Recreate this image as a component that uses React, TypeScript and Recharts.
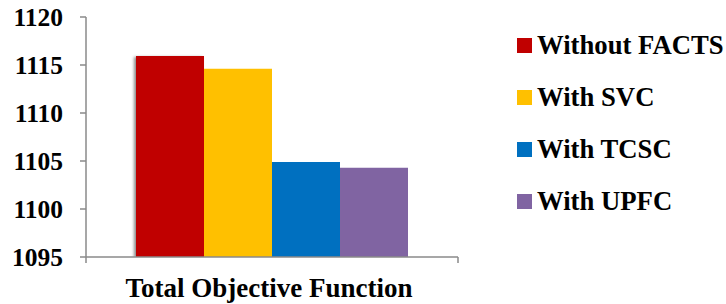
import React from 'react';
import { BarChart, Bar, XAxis, YAxis } from 'recharts';

const categories = ['Total Objective Function'];
const seriesNames = ['Without FACTS', 'With SVC', 'With TCSC', 'With UPFC'];
const seriesKeys = ['without', 'svc', 'tcsc', 'upfc'];
const seriesColors = ['#C00000', '#FFC000', '#0070C0', '#8064A2'];
const withoutValues = [1115.95];
const svcValues = [1114.6];
const tcscValues = [1104.9];
const upfcValues = [1104.3];
const yTicks = [1095, 1100, 1105, 1110, 1115, 1120];

const data = categories.map((c, i) => ({
  name: c,
  without: withoutValues[i],
  svc: svcValues[i],
  tcsc: tcscValues[i],
  upfc: upfcValues[i],
}));

const FONT = "'Liberation Serif', 'Times New Roman', serif";
const W = 726;
const H = 304;
const M_LEFT = 0;
const Y_W = 86;
const M_RIGHT = 268;
const M_TOP = 17;
const X_H = 47;
const PLOT_W = W - M_LEFT - Y_W - M_RIGHT;
const PLOT_BOTTOM = H - X_H;
const AXIS_COLOR = '#8a8a8a';

const XTick = (props: any) => {
  const { x, payload } = props;
  const half = PLOT_W / 2;
  return (
    <g>
      <line x1={x - half} x2={x - half} y1={PLOT_BOTTOM} y2={PLOT_BOTTOM + 6} stroke={AXIS_COLOR} strokeWidth={1.5} />
      <line x1={x + half} x2={x + half} y1={PLOT_BOTTOM} y2={PLOT_BOTTOM + 6} stroke={AXIS_COLOR} strokeWidth={1.5} />
      <text x={x - 3} y={PLOT_BOTTOM + 39.5} textAnchor="middle" style={{ fontFamily: FONT, fontWeight: 'bold', fontSize: 27 }} fill="#000">
        {payload.value}
      </text>
    </g>
  );
};

const YTick = (props: any) => {
  const { x, y, payload } = props;
  return (
    <text x={x} y={y} dy="0.35em" textAnchor="end" style={{ fontFamily: FONT, fontWeight: 'bold', fontSize: 25.5 }} fill="#000">
      {payload.value}
    </text>
  );
};

const LegendBox = () => (
  <div
    style={{
      position: 'absolute',
      left: 517,
      top: 19,
      fontFamily: FONT,
      fontWeight: 'bold',
      fontSize: 26.7,
      color: '#000',
    }}
  >
    {seriesNames.map((n, i) => (
      <div key={n} style={{ display: 'flex', alignItems: 'center', height: 52.2, whiteSpace: 'nowrap' }}>
        <span style={{ display: 'inline-block', width: 15, height: 15, background: seriesColors[i], marginRight: 5 }} />
        <span style={{ lineHeight: '27px' }}>{n}</span>
      </div>
    ))}
  </div>
);

export default function App() {
  return (
    <div style={{ position: 'absolute', left: 0, top: 0, width: W, height: H, background: '#fff' }}>
      <BarChart
        width={W}
        height={H}
        data={data}
        margin={{ top: M_TOP, right: M_RIGHT, bottom: 0, left: M_LEFT }}
        barCategoryGap={50}
        barGap={0}
      >
        <defs>
          <filter id="barShadow" x="-20%" y="-10%" width="140%" height="120%">
            <feDropShadow dx={-2} dy={1} stdDeviation={1.5} floodColor="#000" floodOpacity={0.45} />
          </filter>
        </defs>
        <YAxis
          domain={[1095, 1120]}
          ticks={yTicks}
          interval={0}
          width={Y_W}
          allowDataOverflow
          stroke={AXIS_COLOR}
          strokeWidth={1.5}
          tickSize={6}
          tickMargin={17}
          tick={<YTick />}
        />
        <XAxis
          dataKey="name"
          height={X_H}
          stroke={AXIS_COLOR}
          strokeWidth={1.5}
          tickLine={false}
          tick={<XTick />}
          interval={0}
        />
        {seriesKeys.map((k, i) => (
          <Bar
            key={k}
            dataKey={k}
            name={seriesNames[i]}
            fill={seriesColors[i]}
            filter={i === 0 ? 'url(#barShadow)' : undefined}
            isAnimationActive={false}
          />
        ))}
      </BarChart>
      <LegendBox />
    </div>
  );
}
